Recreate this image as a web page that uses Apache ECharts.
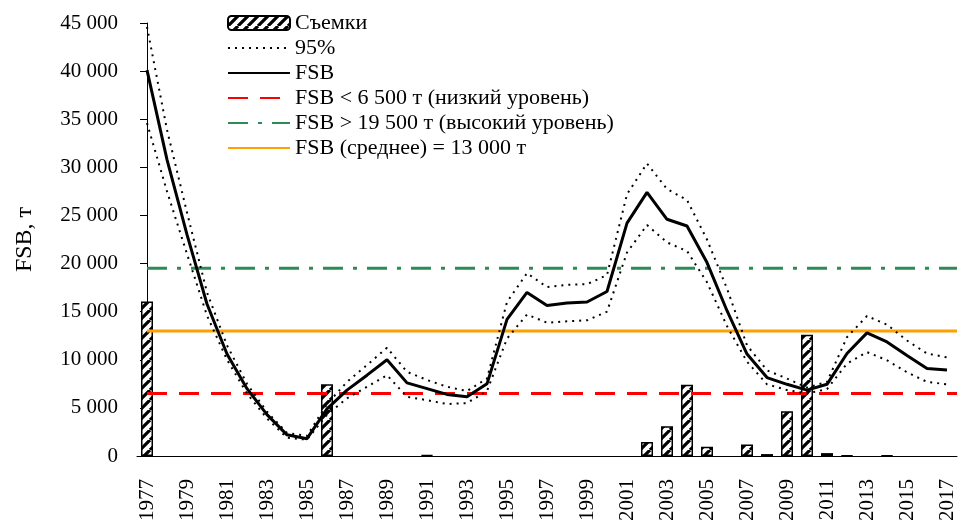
<!DOCTYPE html>
<html><head><meta charset="utf-8">
<script src="https://cdn.jsdelivr.net/npm/echarts@6/dist/echarts.min.js"></script>
<style>html,body{margin:0;padding:0;background:#fff}#c{width:966px;height:524px}</style>
</head><body><div id="c"></div>
<script>
const years = ['1977','1978','1979','1980','1981','1982','1983','1984','1985','1986',
  '1987','1988','1989','1990','1991','1992','1993','1994','1995','1996',
  '1997','1998','1999','2000','2001','2002','2003','2004','2005','2006',
  '2007','2008','2009','2010','2011','2012','2013','2014','2015','2016','2017'];
const surveys = [16050,null,null,null,null,null,null,null,null,7450,
  null,null,null,null,80,null,null,null,null,null,
  null,null,null,null,null,1450,3100,7400,950,null,
  1200,200,4650,12600,300,60,null,60,null,null,null];
const fsb = [40100,30800,23000,15800,10600,7000,4300,2200,1800,4900,
  6850,8400,10000,7600,7000,6400,6150,7500,14200,17000,
  15650,15900,16000,17100,24200,27400,24600,23900,20100,15100,
  10600,8150,7450,6850,7450,10650,12800,11850,10450,9100,8950];
const upper95 = [44600,33900,25300,17000,11500,7500,4600,2400,2100,5400,
  7700,9450,11250,8750,7900,7200,6750,8050,16000,19000,
  17550,17800,17850,18800,27200,30400,27750,26600,22500,17400,
  11500,8900,8050,7100,7700,12350,14550,13650,12000,10650,10250];
const lower95 = [34600,27500,21000,14600,10000,6500,3900,1900,1700,4300,
  6000,7200,8400,6150,5800,5400,5500,6750,12200,14700,
  13850,14000,14100,15000,21150,24000,22200,21300,18050,13500,
  9800,7450,6850,6500,6950,9600,10800,9950,8700,7700,7450];
const LOW_LEVEL = 6500, HIGH_LEVEL = 19500, MEAN_LEVEL = 13000;
const names = ['Съемки','95%','FSB','FSB < 6 500 т (низкий уровень)','FSB > 19 500 т (высокий уровень)','FSB (среднее) = 13 000 т'];

function hatch(){
  const s = 10;
  const c = document.createElement('canvas'); c.width = s; c.height = s;
  const g = c.getContext('2d');
  g.fillStyle = '#fff'; g.fillRect(0,0,s,s);
  g.strokeStyle = '#000'; g.lineWidth = 3.2;
  g.beginPath();
  [-s,0,s].forEach(x0 => { g.moveTo(x0,s); g.lineTo(x0+s,0); });
  g.stroke();
  return c;
}
const FONT = 'Liberation Serif';
const fmt = v => String(v).replace(/\B(?=(\d{3})+(?!\d))/g,' ');
const span = v => [[0, v], [years.length - 0.5, v]];

const chart = echarts.init(document.getElementById('c'));
chart.setOption({
  animation: false,
  backgroundColor: '#fff',
  textStyle: {fontFamily: FONT, color: '#000'},
  grid: {left: 137, right: 9, top: 23, bottom: 66},
  legend: {
    orient: 'vertical', left: 222, top: 7, itemWidth: 62, itemHeight: 14, itemGap: 3,
    textStyle: {fontFamily: FONT, fontSize: 22, color: '#000', lineHeight: 22},
    data: [
      {name: names[0]},
      {name: names[1], itemStyle: {opacity: 0}},
      {name: names[2], itemStyle: {opacity: 0}},
      {name: names[3], itemStyle: {opacity: 0}},
      {name: names[4], itemStyle: {opacity: 0}},
      {name: names[5], itemStyle: {opacity: 0}}
    ]
  },
  xAxis: [{
    type: 'category', data: years, boundaryGap: true,
    axisLine: {lineStyle: {color: '#000', width: 1}},
    axisTick: {interval: 0, length: 7, lineStyle: {color: '#000'}},
    axisLabel: {interval: 1, rotate: 90, margin: 23, fontFamily: FONT, fontSize: 21, color: '#000'}
  }, {
    type: 'value', min: -0.5, max: years.length - 0.5, show: false
  }],
  yAxis: {
    type: 'value', min: 0, max: 45000, interval: 5000,
    name: 'FSB, т', nameLocation: 'middle', nameGap: 100,
    nameTextStyle: {fontFamily: FONT, fontSize: 24, color: '#000'},
    axisLine: {show: true, lineStyle: {color: '#000', width: 1}},
    axisTick: {show: true, length: 7, lineStyle: {color: '#000'}},
    splitLine: {show: false},
    axisLabel: {formatter: fmt, margin: 19, fontFamily: FONT, fontSize: 21, color: '#000'}
  },
  series: [
    {name: names[0], type: 'bar', data: surveys, barWidth: 12,
      itemStyle: {color: {image: hatch(), repeat: 'repeat'}, borderColor: '#000', borderWidth: 1.5}},
    {name: names[3], type: 'line', xAxisIndex: 1, data: span(LOW_LEVEL), symbol: 'none',
      lineStyle: {color: '#ff0000', width: 3, type: [20, 12]}, itemStyle: {color: '#ff0000'}},
    {name: names[4], type: 'line', xAxisIndex: 1, data: span(HIGH_LEVEL), symbol: 'none',
      lineStyle: {color: '#2e8b57', width: 3, type: [20, 10, 4, 10]}, itemStyle: {color: '#2e8b57'}},
    {name: names[5], type: 'line', xAxisIndex: 1, data: span(MEAN_LEVEL), symbol: 'none',
      lineStyle: {color: '#ffa000', width: 3}, itemStyle: {color: '#ffa000'}},
    {name: names[1], type: 'line', data: upper95, symbol: 'none',
      lineStyle: {color: '#000', width: 2, type: [2, 5]}, itemStyle: {color: '#000'}},
    {name: names[1], type: 'line', data: lower95, symbol: 'none',
      lineStyle: {color: '#000', width: 2, type: [2, 5]}, itemStyle: {color: '#000'}},
    {name: names[2], type: 'line', data: fsb, symbol: 'none',
      lineStyle: {color: '#000', width: 3}, itemStyle: {color: '#000'}}
  ]
});
</script></body></html>
